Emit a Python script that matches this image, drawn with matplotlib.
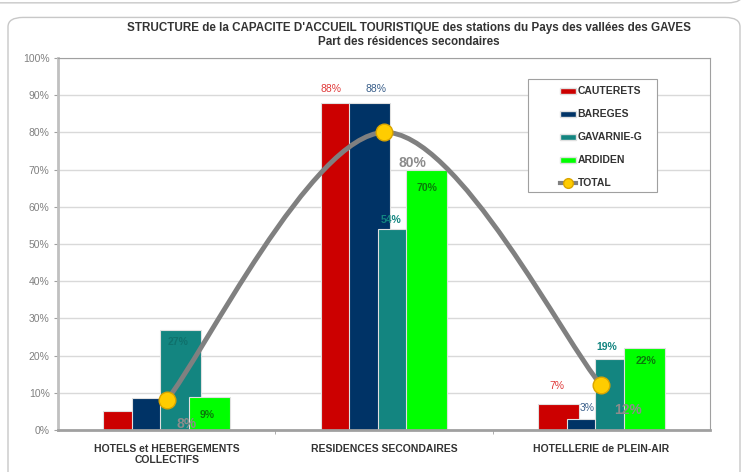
import matplotlib
matplotlib.use("Agg")
import matplotlib.pyplot as plt
from matplotlib.path import Path
from matplotlib.patches import PathPatch, Patch, FancyBboxPatch, Rectangle
from matplotlib.lines import Line2D
from matplotlib.ticker import PercentFormatter, FixedLocator

# data
categories = ["HOTELS et HEBERGEMENTS\nCOLLECTIFS", "RESIDENCES SECONDAIRES", "HOTELLERIE de PLEIN-AIR"]
series_names = ["CAUTERETS", "BAREGES", "GAVARNIE-G", "ARDIDEN"]
cauterets = [5, 88, 7]
bareges = [8.5, 88, 3]
gavarnie = [27, 54, 19]
ardiden = [9, 70, 22]
total = [8, 80, 12]

bar_colors = ["#CC0000", "#003366", "#138580", "#00FF00"]

# value labels: (series, category, text, dx px, dy px, bold, colour)
bar_labels = [
    (2, 0, "27%", -3, -12, True, "#0F716C"),
    (3, 0, "9%", -2, -18, True, "#0A7A0A"),
    (0, 1, "88%", -10, 14, False, "#E03A3A"),
    (1, 1, "88%", 6, 14, False, "#3A5F8A"),
    (2, 1, "54%", -7, 9, True, "#138580"),
    (3, 1, "70%", 0, -18, True, "#0A7A0A"),
    (0, 2, "7%", -2, 18, False, "#E03A3A"),
    (1, 2, "3%", 0, 11, False, "#3A5F8A"),
    (2, 2, "19%", -9, 12, True, "#138580"),
    (3, 2, "22%", 2, -13, True, "#0A7A0A"),
]
total_labels = ["8%", "80%", "12%"]
total_offsets = [(20, -24), (28, -31), (27, -25)]

plt.rcParams["font.family"] = ["Liberation Sans", "DejaVu Sans"]

fig = plt.figure(figsize=(7.48, 4.72), dpi=100)
fig.patch.set_facecolor("white")

# outer frame
fig.patches.append(FancyBboxPatch((8 / 748, -0.05), 732 / 748, 1.03 - 8 / 472,
                                  boxstyle="round,pad=0,rounding_size=0.02",
                                  transform=fig.transFigure, fill=False,
                                  edgecolor="#C8C8C8", linewidth=1.0))
fig.patches.append(FancyBboxPatch((-0.05, 0.994), 1.043, 0.1,
                                  boxstyle="round,pad=0,rounding_size=0.02",
                                  transform=fig.transFigure, fill=False,
                                  edgecolor="#C8C8C8", linewidth=1.0))

ax = fig.add_axes([58 / 748, 42 / 472, 652 / 748, 372 / 472])

step = 0.131
width = 0.189
offsets = [-1.5 * step, -0.5 * step, 0.5 * step, 1.5 * step]
values = [cauterets, bareges, gavarnie, ardiden]
x = list(range(len(categories)))

for i, vals in enumerate(values):
    ax.bar([xi + offsets[i] for xi in x], vals, width=width, color=bar_colors[i],
           edgecolor="#E0E0E0", linewidth=0.8, zorder=2 + i * 0.1)

for s, c, txt, dx, dy, bold, col in bar_labels:
    ax.annotate(txt, (c + offsets[s], values[s][c]), xytext=(dx, dy),
                textcoords="offset pixels", ha="center", va="center",
                fontsize=7.5, color=col,
                fontweight="bold" if bold else "normal", zorder=6)

# smoothed total line (bezier through the points)
pts = list(zip(x, total))
verts = [pts[0]]
codes = [Path.MOVETO]
for k in range(len(pts) - 1):
    p_prev = pts[k - 1] if k > 0 else pts[k]
    p0 = pts[k]
    p1 = pts[k + 1]
    p_next = pts[k + 2] if k + 2 < len(pts) else pts[k + 1]
    c1 = (p0[0] + (p1[0] - p_prev[0]) / 6, p0[1] + (p1[1] - p_prev[1]) / 6)
    c2 = (p1[0] - (p_next[0] - p0[0]) / 6, p1[1] - (p_next[1] - p0[1]) / 6)
    verts += [c1, c2, p1]
    codes += [Path.CURVE4] * 3
ax.add_patch(PathPatch(Path(verts, codes), fill=False, edgecolor="#808080",
                       linewidth=3.5, capstyle="round", zorder=4))
ax.plot(x, total, linestyle="none", marker="o", markersize=12,
        markerfacecolor="#FFCC00", markeredgecolor="#D9A400", markeredgewidth=1, zorder=5)
for i, txt in enumerate(total_labels):
    ax.annotate(txt, (x[i], total[i]), xytext=total_offsets[i], textcoords="offset pixels",
                ha="center", va="center", fontsize=10, color="#8C8C8C",
                fontweight="bold", zorder=6)

ax.set_xlim(-0.5, 2.5)
ax.set_ylim(0, 100)
ax.set_yticks(range(0, 101, 10))
ax.yaxis.set_major_formatter(PercentFormatter(decimals=0))
ax.set_xticks(x)
ax.set_xticklabels(categories, fontsize=7.5, fontweight="bold", color="#333333")
ax.xaxis.set_minor_locator(FixedLocator([0.5, 1.5]))
ax.tick_params(axis="x", which="major", length=0, pad=10)
ax.tick_params(axis="x", which="minor", length=3, color="#A0A0A0")
ax.tick_params(axis="y", labelsize=7.5, labelcolor="#808080", length=3, color="#A0A0A0", pad=3)
ax.grid(axis="y", color="#D9D9D9", linewidth=1, zorder=0)
ax.set_axisbelow(True)
ax.spines["left"].set_color("#C0C0C0")
ax.spines["left"].set_linewidth(2)
ax.spines["bottom"].set_color("#A0A0A0")
ax.spines["bottom"].set_linewidth(2)
ax.spines["top"].set_color("#A0A0A0")
ax.spines["right"].set_color("#A0A0A0")

# legend with its own frame
ax.add_patch(Rectangle((0.7209, 0.6398), 0.1978, 0.3037, transform=ax.transAxes,
                       facecolor="white", edgecolor="#A0A0A0", linewidth=0.8, zorder=7))
handles = [Patch(facecolor=bar_colors[i], edgecolor="#E0E0E0") for i in range(4)]
handles.append(Line2D([0], [0], color="#808080", linewidth=3, marker="o", markersize=7,
                      markerfacecolor="#FFCC00", markeredgecolor="#D9A400"))
leg = ax.legend(handles, series_names + ["TOTAL"], loc="upper left",
                bbox_to_anchor=(0.77, 0.924), frameon=False,
                prop={"weight": "bold", "size": 7.5}, handlelength=1.5, handleheight=0.5,
                handletextpad=0.2, labelspacing=1.25, borderpad=0, borderaxespad=0)
leg.set_zorder(8)
for t in leg.get_texts():
    t.set_color("#333333")

fig.text(409 / 748, 1 - 28 / 472, "STRUCTURE de la CAPACITE D'ACCUEIL TOURISTIQUE des stations du Pays des vallées des GAVES",
         ha="center", va="center", fontsize=8.4, fontweight="bold", color="#333333")
fig.text(409 / 748, 1 - 42 / 472, "Part des résidences secondaires",
         ha="center", va="center", fontsize=8.4, fontweight="bold", color="#333333")

fig.savefig("out.png", dpi=100)
